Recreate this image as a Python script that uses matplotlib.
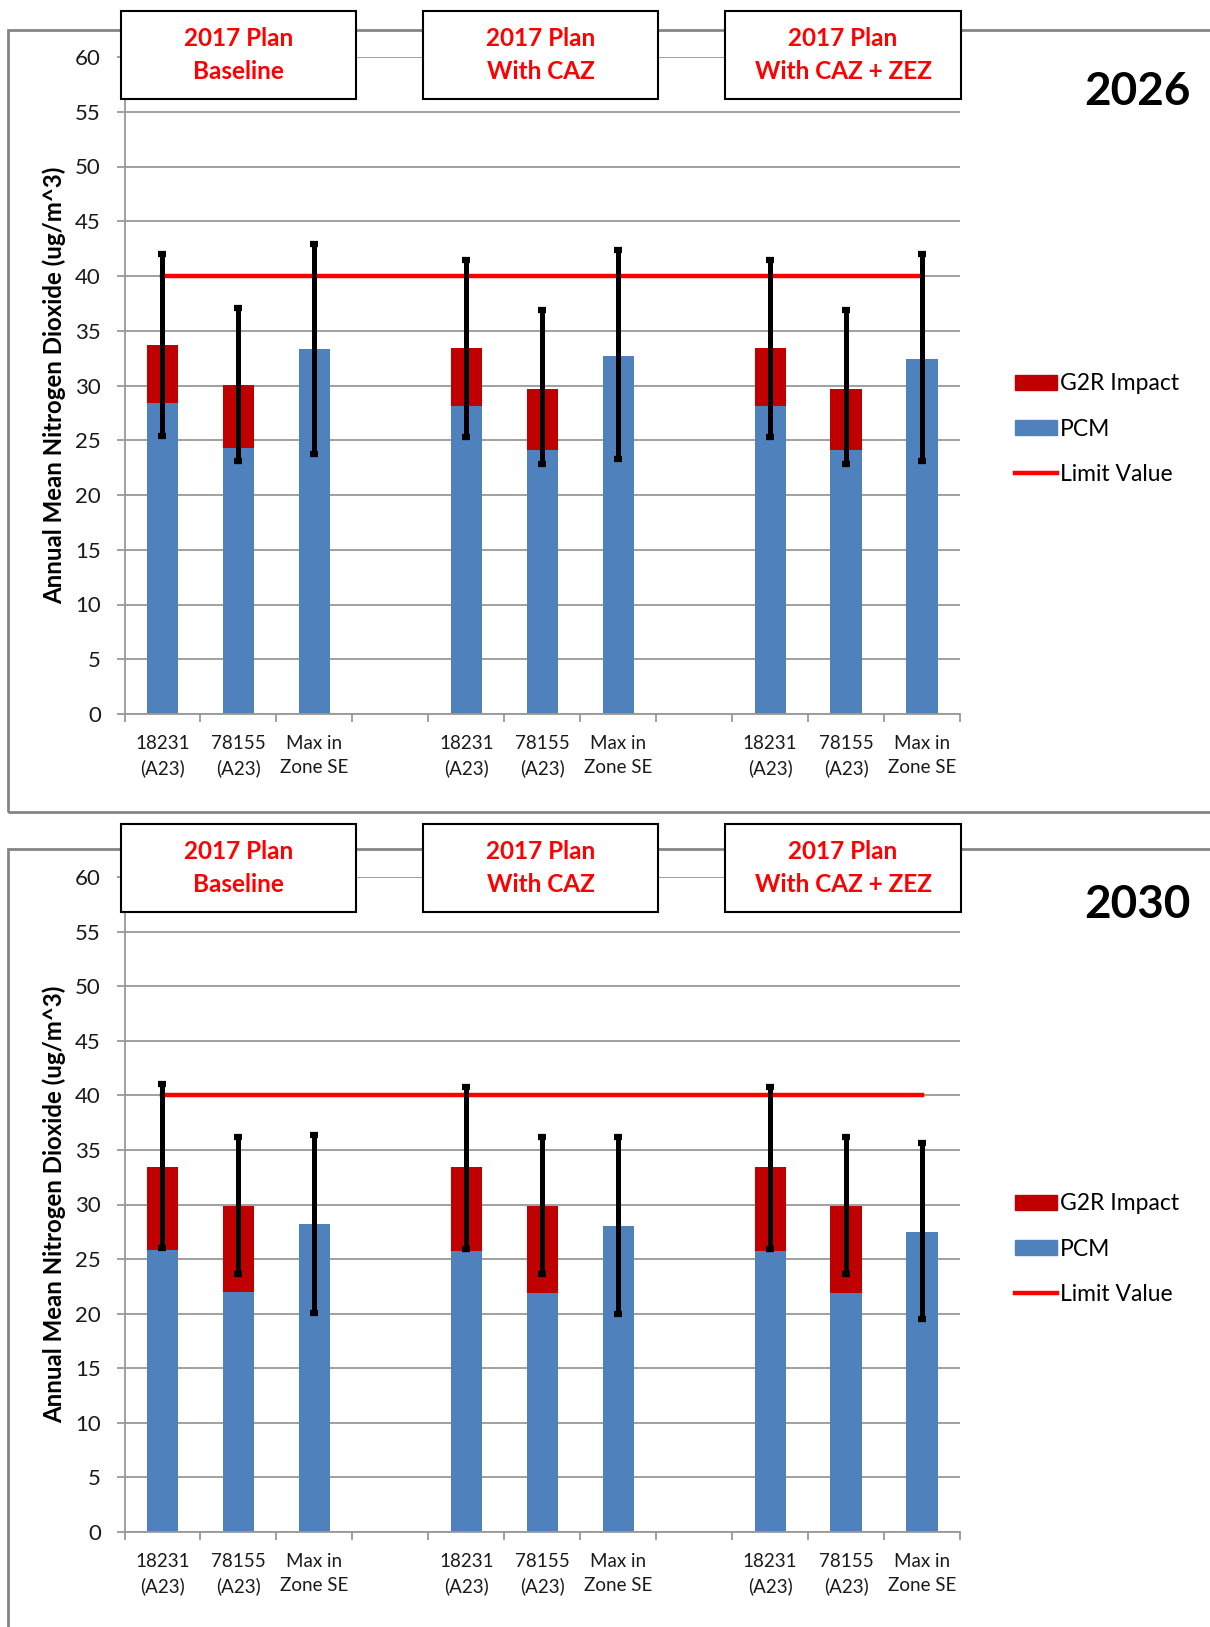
import numpy as np
import matplotlib
matplotlib.use('Agg')
import matplotlib.pyplot as plt
from matplotlib.patches import Rectangle, Patch
from matplotlib.lines import Line2D
from matplotlib.transforms import blended_transform_factory

plt.rcParams['font.family'] = ['Lato', 'DejaVu Sans']

# --- data ---
sites = ['18231\n(A23)', '78155\n(A23)', 'Max in\nZone SE']
scenarios = ['2017 Plan\nBaseline', '2017 Plan\nWith CAZ', '2017 Plan\nWith CAZ + ZEZ']
limit_value = 40

# 2026 (per scenario: 18231, 78155, Max in Zone SE)
pcm_2026 = [28.4, 24.3, 33.3, 28.1, 24.1, 32.7, 28.1, 24.1, 32.4]
g2r_2026 = [5.3, 5.7, 0.0, 5.3, 5.6, 0.0, 5.3, 5.6, 0.0]
err_low_2026 = [25.4, 23.1, 23.7, 25.3, 22.8, 23.3, 25.3, 22.8, 23.1]
err_high_2026 = [42.0, 37.1, 42.9, 41.5, 36.9, 42.4, 41.5, 36.9, 42.0]

# 2030
pcm_2030 = [25.8, 22.0, 28.2, 25.7, 21.9, 28.0, 25.7, 21.9, 27.5]
g2r_2030 = [7.6, 7.9, 0.0, 7.7, 8.0, 0.0, 7.7, 8.0, 0.0]
err_low_2030 = [26.0, 23.6, 20.1, 25.9, 23.6, 20.0, 25.9, 23.6, 19.5]
err_high_2030 = [41.0, 36.2, 36.4, 40.8, 36.2, 36.2, 40.8, 36.2, 35.6]

BLUE = '#4F81BD'
DARKRED = '#C00000'
RED = '#FF0000'
GRID = '#999999'
BORDER = '#858585'

W, H = 1210, 1627
fig = plt.figure(figsize=(W / 100, H / 100), dpi=100)


def fx(px):
    return px / W


def fy(py):
    return 1 - py / H


def draw_panel(year, pcm, g2r, low, high, y0_px, y60_px, border_top, border_bot,
               box_top, box_bot):
    # outer chart border
    fig.add_artist(Rectangle((fx(8), fy(border_bot)), fx(1300), (border_bot - border_top) / H,
                             transform=fig.transFigure, fill=False,
                             edgecolor=BORDER, lw=2.0, zorder=1))

    left, right = 124.5, 960
    ax = fig.add_axes([fx(left), fy(y0_px), (right - left) / W, (y0_px - y60_px) / H])

    # x positions: 3 bars per scenario, one empty slot between scenarios
    x = np.array([g * 4 + i for g in range(3) for i in range(3)])
    pcm = np.array(pcm)
    g2r = np.array(g2r)
    total = pcm + g2r
    yerr = [total - np.array(low), np.array(high) - total]

    ax.bar(x, pcm, width=0.41, color=BLUE, zorder=2, label='PCM')
    ax.bar(x, g2r, width=0.41, bottom=pcm, color=DARKRED, zorder=2, label='G2R Impact')
    ax.plot([x[0], x[-1]], [limit_value, limit_value], color=RED, lw=3.2,
            zorder=3, label='Limit Value')
    ax.errorbar(x, total, yerr=yerr, fmt='none', ecolor='black', elinewidth=3.6,
                capsize=3.2, capthick=4.5, zorder=4)

    ax.set_xlim(-0.5, 10.5)
    ax.set_ylim(0, 60)
    ax.set_yticks(np.arange(0, 61, 5))
    ax.yaxis.grid(True, color=GRID, lw=1.3, zorder=0)
    ax.set_axisbelow(True)
    for s in ['top', 'right']:
        ax.spines[s].set_visible(False)
    for s in ['left', 'bottom']:
        ax.spines[s].set_color(GRID)
        ax.spines[s].set_linewidth(1.3)

    ax.tick_params(axis='y', length=6, width=1.3, color=GRID, pad=11,
                   labelsize=16, labelcolor='#1a1a1a')
    ax.set_xticks(x)
    ax.set_xticklabels(sites * 3, fontsize=13.5, color='#1a1a1a', linespacing=1.5)
    ax.set_xticks(np.arange(-0.5, 10.6, 1), minor=True)
    ax.tick_params(axis='x', which='major', length=0, pad=15)
    ax.tick_params(axis='x', which='minor', length=6, width=1.3, color=GRID)

    fig.text(fx(54), fy((y0_px + y60_px) / 2), 'Annual Mean Nitrogen Dioxide (ug/m^3)',
             rotation=90, ha='center', va='center', fontsize=17.3, fontweight='bold')

    # scenario header boxes
    trans = blended_transform_factory(ax.transData, fig.transFigure)
    for g, name in enumerate(scenarios):
        cx = 1.0 + g * 3.98
        fig.add_artist(Rectangle((cx - 1.55, fy(box_bot)), 3.1, (box_bot - box_top) / H,
                                 transform=trans, facecolor='white', edgecolor='black',
                                 lw=1.5, zorder=5))
        fig.text(cx, fy((box_top + box_bot) / 2), name, transform=trans, ha='center',
                 va='center', color=RED, fontsize=17.5, fontweight='bold',
                 linespacing=1.5, zorder=6)

    fig.text(fx(1137), fy(box_top + 81), year, ha='center', va='center',
             fontsize=33, fontweight='bold')

    handles = [Patch(color=DARKRED), Patch(color=BLUE), Line2D([], [], color=RED, lw=3.2)]
    ax.legend(handles, ['G2R Impact', 'PCM', 'Limit Value'], loc='center left',
              bbox_to_anchor=((1004 - left) / (right - left), (y0_px - (y60_px + 372)) / (y0_px - y60_px)),
              frameon=False, fontsize=16.5, handlelength=1.8, handleheight=0.6,
              handletextpad=0.15, labelspacing=1.05, borderpad=0)
    return ax


draw_panel('2026', pcm_2026, g2r_2026, err_low_2026, err_high_2026,
           y0_px=714, y60_px=57, border_top=30, border_bot=812, box_top=11, box_bot=99)
draw_panel('2030', pcm_2030, g2r_2030, err_low_2030, err_high_2030,
           y0_px=1532, y60_px=877, border_top=849, border_bot=1700, box_top=824, box_bot=912)

fig.savefig('out.png', dpi=100)
